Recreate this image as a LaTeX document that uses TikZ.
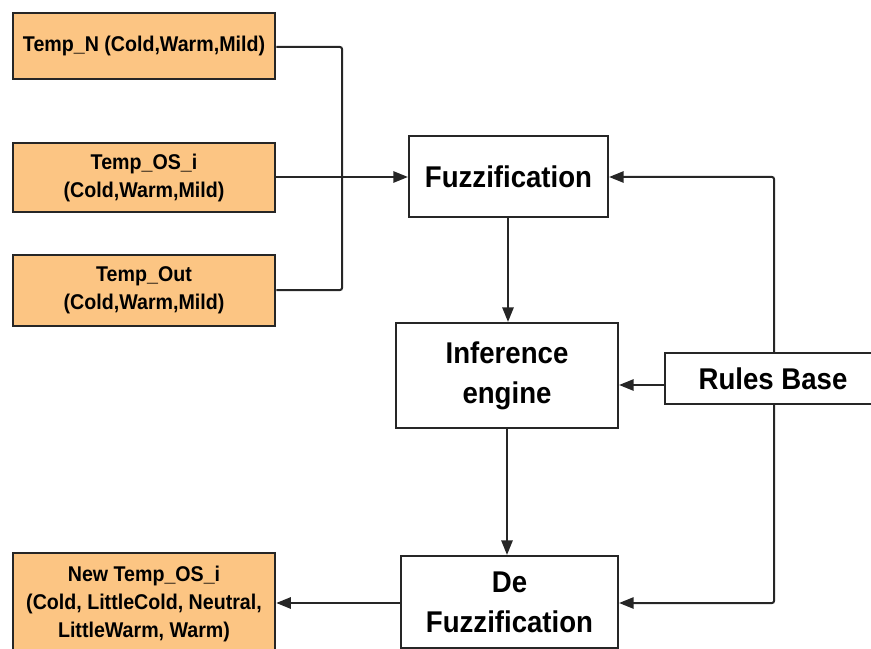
\documentclass[tikz,border=0pt]{standalone}
\usepackage{fontspec}
\setmainfont{Liberation Sans}[FakeStretch=0.92]
\usetikzlibrary{arrows.meta}
\definecolor{inbox}{HTML}{FCC583}
\definecolor{edge}{HTML}{262626}
\tikzset{
  varbox/.style={draw=edge, line width=1.9pt, fill=inbox, align=center,
    font=\fontsize{16pt}{21pt}\selectfont\bfseries, inner sep=0pt},
  stagebox/.style={draw=edge, line width=1.6pt, fill=white, align=center,
    font=\fontsize{22.5pt}{30pt}\selectfont\bfseries, inner sep=0pt},
  link/.style={draw=edge, line width=1.5pt, rounded corners=1.5pt},
  arr/.style={link, -{Triangle[length=11pt,width=8.5pt]}}
}
\begin{document}
\begin{tikzpicture}[x=0.75pt,y=-0.75pt]
  \useasboundingbox (0,0) rectangle (871,649);
  \clip (0,0) rectangle (871,649);

  % input variables
  \node[varbox, minimum width=196.5pt, minimum height=49.5pt] (tn) at (144,46) {Temp\_N (Cold,Warm,Mild)};
  \node[varbox, minimum width=196.5pt, minimum height=51.75pt] (tos) at (144,177.5) {Temp\_OS\_i\\(Cold,Warm,Mild)};
  \node[varbox, minimum width=196.5pt, minimum height=53.25pt] (tout) at (144,290.5) {Temp\_Out\\(Cold,Warm,Mild)};

  % output variable
  \node[varbox, minimum width=196.5pt, minimum height=76.5pt] (newos) at (144,604) {New Temp\_OS\_i\\(Cold, LittleCold, Neutral,\\LittleWarm, Warm)};

  % fuzzy controller stages
  \node[stagebox, minimum width=149.25pt, minimum height=60.75pt] (fuzz) at (508.5,176.5) {Fuzzification};
  \node[stagebox, minimum width=166.5pt, minimum height=78.75pt] (inf) at (507,375.5) {Inference\\engine};
  \node[stagebox, minimum width=162.75pt, minimum height=69pt] (defuzz) at (509.5,602) {De\\Fuzzification};
  \node[stagebox, minimum width=162pt, minimum height=38.25pt] (rules) at (773,378.5) {Rules Base};

  % input bus into fuzzification
  \coordinate (bus) at (342,177);
  \draw[link] (tn.east |- 0,47) -| (bus) |- (tout.east |- 0,290);
  \draw[arr] (tos.east |- bus) -- (fuzz.west |- bus);

  % main chain
  \draw[arr] (fuzz.south -| 508,0) -- (inf.north -| 508,0);
  \draw[arr] (inf.south -| 507,0) -- (defuzz.north -| 507,0);
  \draw[arr] (defuzz.west |- 0,603) -- (newos.east |- 0,603);

  % rule base feeds
  \draw[arr] (rules.north -| 774,0) |- (fuzz.east |- 0,177);
  \draw[arr] (rules.west |- 0,385) -- (inf.east |- 0,385);
  \draw[arr] (rules.south -| 774,0) |- (defuzz.east |- 0,603);
\end{tikzpicture}
\end{document}
